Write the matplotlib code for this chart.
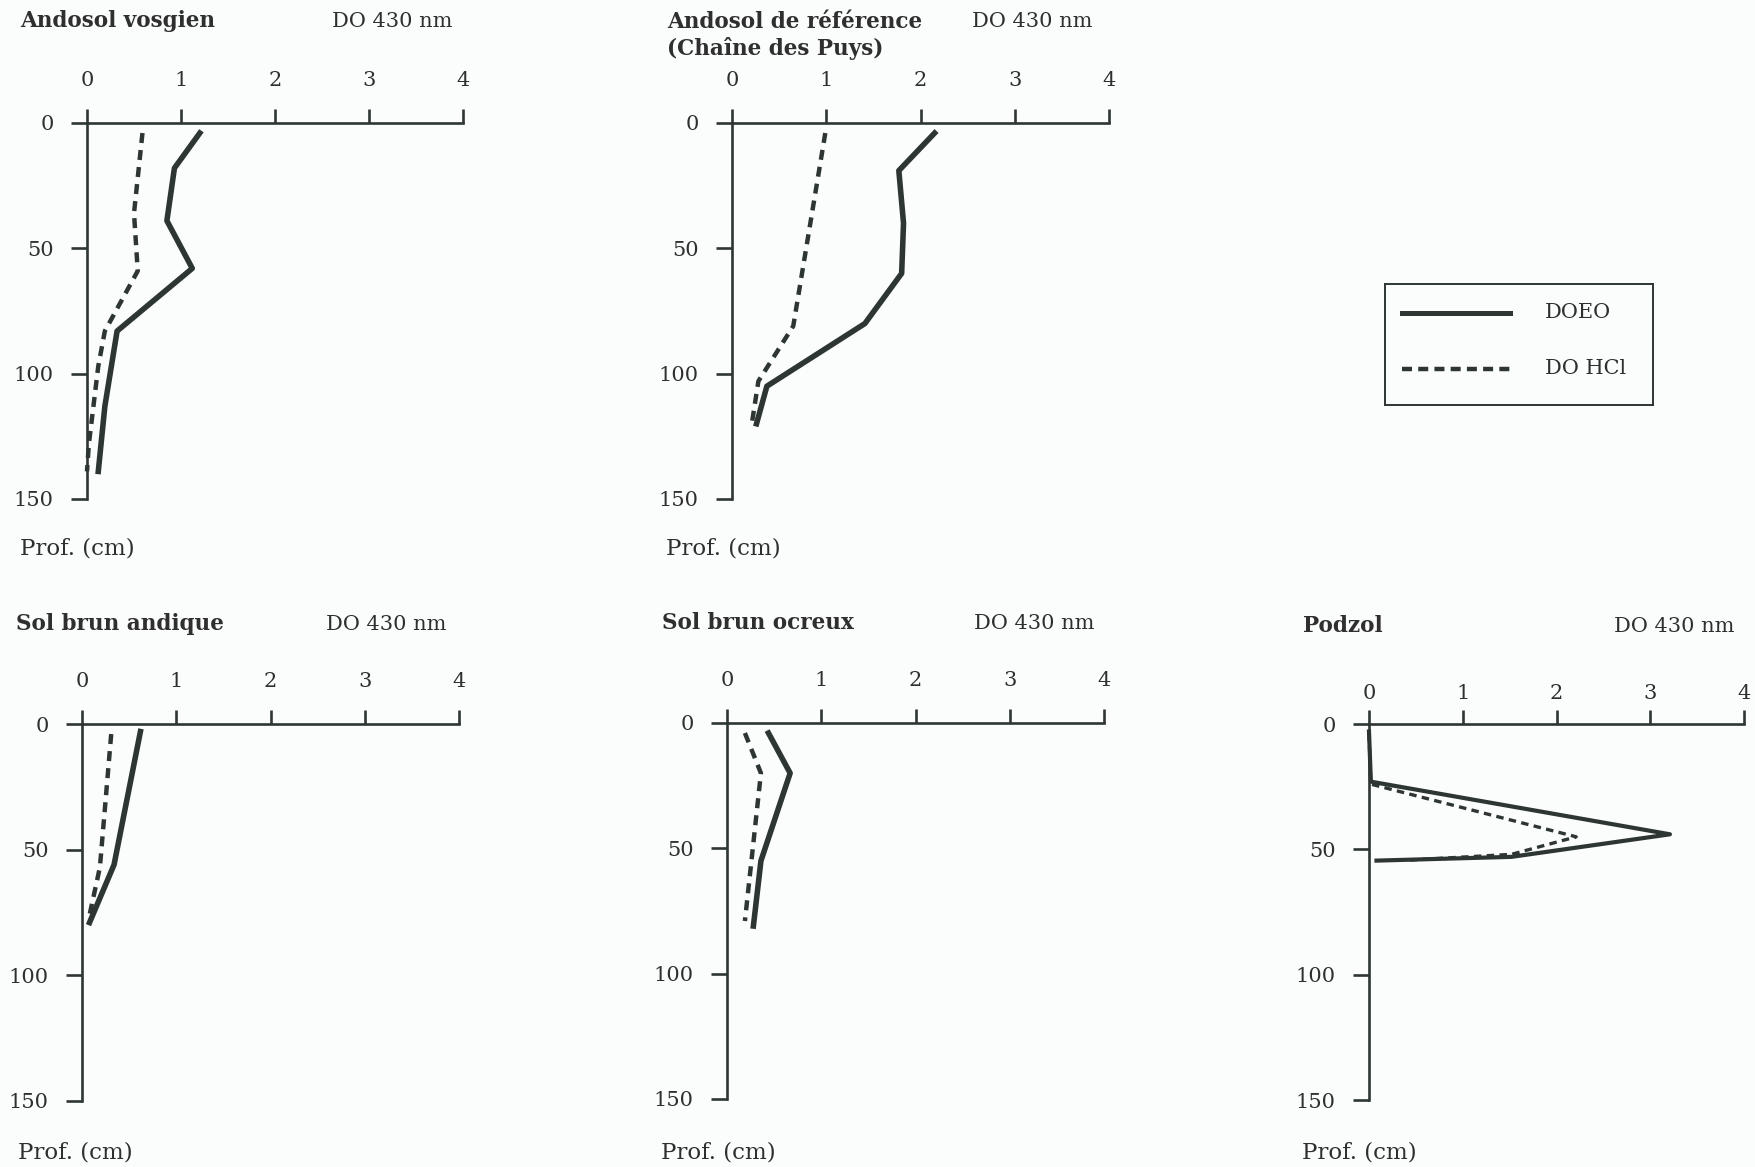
import numpy as np
import matplotlib.pyplot as plt

W, H = 1755, 1167

# profiles: depth (cm) and optical density at 430 nm
vosg_doeo_d = [4, 18, 39, 58, 83, 113, 139]
vosg_doeo = [1.20, 0.93, 0.85, 1.12, 0.32, 0.19, 0.12]
vosg_hcl_d = [4, 36, 59, 83, 97, 128, 139]
vosg_hcl = [0.59, 0.50, 0.54, 0.19, 0.12, 0.02, 0.0]

ref_doeo_d = [4, 19, 40, 60, 80, 105, 120]
ref_doeo = [2.15, 1.77, 1.82, 1.80, 1.41, 0.37, 0.26]
ref_hcl_d = [4, 81, 103, 120]
ref_hcl = [0.99, 0.65, 0.28, 0.21]

andi_doeo_d = [3, 56, 79]
andi_doeo = [0.62, 0.34, 0.08]
andi_hcl_d = [4, 57, 76]
andi_hcl = [0.31, 0.19, 0.08]

ocre_doeo_d = [4, 20, 55, 81]
ocre_doeo = [0.44, 0.67, 0.36, 0.28]
ocre_hcl_d = [4, 20, 79]
ocre_hcl = [0.19, 0.36, 0.19]

podz_doeo_d = [3, 23, 44, 53, 54.5]
podz_doeo = [0.0, 0.02, 3.21, 1.52, 0.08]
podz_hcl_d = [4, 24, 45, 52, 54.3]
podz_hcl = [0.0, 0.02, 2.21, 1.52, 0.42]

titles = [["Andosol vosgien"], ["Andosol de référence", "(Chaîne des Puys)"],
          ["Sol brun andique"], ["Sol brun ocreux"], ["Podzol"]]
xticks = [0, 1, 2, 3, 4]
yticks = [0, 50, 100, 150]

ink = '#2e3634'
txt = '#2f2f2f'
bg = '#fbfcfc'
serif = ['DejaVu Serif']

fig = plt.figure(figsize=(W / 100, H / 100), dpi=100, facecolor=bg)

# panel boxes in pixels: (x of y-axis, x at 4, y of 0, y of 150)
boxes = [(87, 463, 123, 499), (732, 1109, 123, 499),
         (82, 459, 724, 1101), (727, 1104, 723, 1099),
         (1369, 1744, 724, 1100)]
data = [(vosg_doeo_d, vosg_doeo, vosg_hcl_d, vosg_hcl),
        (ref_doeo_d, ref_doeo, ref_hcl_d, ref_hcl),
        (andi_doeo_d, andi_doeo, andi_hcl_d, andi_hcl),
        (ocre_doeo_d, ocre_doeo, ocre_hcl_d, ocre_hcl),
        (podz_doeo_d, podz_doeo, podz_hcl_d, podz_hcl)]
title_pos = [(20, 27), (667, 28), (16, 630), (662, 629), (1303, 632)]
do_pos = [(452, 27), (1093, 27), (447, 630), (1095, 629), (1735, 632)]
prof_pos = [(20, 554), (666, 554), (18, 1159), (661, 1159), (1302, 1159)]
xpads = [14, 14, 14, 14, 5]
lws = [1.0, 1.0, 1.0, 1.0, 0.75]

for i, (x0, x1, y0, y1) in enumerate(boxes):
    ax = fig.add_axes([x0 / W, 1 - y1 / H, (x1 - x0) / W, (y1 - y0) / H])
    ax.set_facecolor('none')
    dd, dv, hd, hv = data[i]
    ax.plot(dv, dd, color=ink, lw=4.0 * lws[i], clip_on=False)
    ax.plot(hv, hd, color=ink, lw=3.2 * lws[i], dashes=(2.25, 1.6), clip_on=False)
    ax.set_xlim(0, 4)
    ax.set_ylim(150, 0)
    ax.xaxis.tick_top()
    ax.set_xticks(xticks)
    ax.set_yticks(yticks)
    for s in ['right', 'bottom']:
        ax.spines[s].set_visible(False)
    for s in ['left', 'top']:
        ax.spines[s].set_linewidth(1.9)
        ax.spines[s].set_color(ink)
    ax.tick_params(axis='x', direction='out', length=10, width=1.9, pad=xpads[i],
                   color=ink, labelcolor=txt, labelsize=15)
    ax.tick_params(axis='y', direction='out', length=11.5, width=1.9, pad=12.5,
                   color=ink, labelcolor=txt, labelsize=15)
    for lab in ax.get_xticklabels() + ax.get_yticklabels():
        lab.set_family(serif)

    tx, ty = title_pos[i]
    for k, line in enumerate(titles[i]):
        fig.text(tx / W, 1 - (ty + 27 * k) / H, line, ha='left', va='baseline',
                 fontsize=15.5, fontweight='bold', family=serif, color=txt)
    dx, dy = do_pos[i]
    fig.text(dx / W, 1 - dy / H, "DO 430 nm", ha='right', va='baseline',
             fontsize=15, family=serif, color=txt)
    px, py = prof_pos[i]
    fig.text(px / W, 1 - py / H, "Prof. (cm)", ha='left', va='baseline',
             fontsize=16.5, family=serif, color=txt)

# legend box
lg = fig.add_axes([1385 / W, 1 - 405 / H, (1653 - 1385) / W, (405 - 284) / H])
lg.set_xlim(1385, 1653)
lg.set_ylim(405, 284)
lg.set_xticks([])
lg.set_yticks([])
lg.set_facecolor('none')
for s in lg.spines.values():
    s.set_linewidth(1.4)
    s.set_color(ink)
lg.plot([1402, 1510], [313, 313], color=ink, lw=3.6)
lg.plot([1402, 1510], [369, 369], color=ink, lw=3.2, dashes=(2.25, 1.4))
lg.text(1545, 313, "DOEO", va='center', ha='left', fontsize=15, family=serif, color=txt)
lg.text(1545, 369, "DO HCl", va='center', ha='left', fontsize=15, family=serif, color=txt)

fig.savefig('out.png', dpi=100, facecolor=bg)
